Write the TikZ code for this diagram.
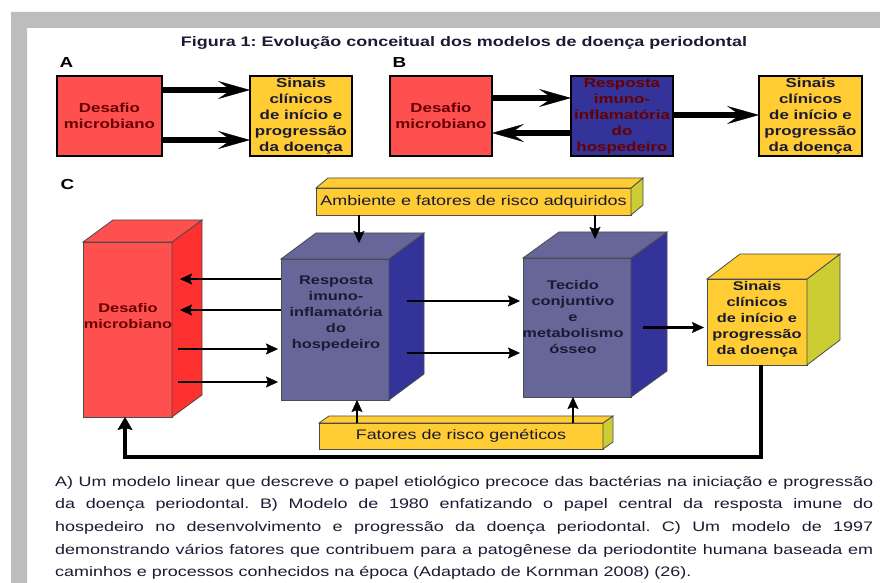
\documentclass[tikz,border=0pt]{standalone}
\usepackage{fontspec}
\setmainfont{Liberation Sans}[FakeStretch=1.3]
\usepackage{tikz}
\usetikzlibrary{arrows.meta}

\definecolor{vermelho}{HTML}{FF5050}
\definecolor{vermelhoesc}{HTML}{FF3030}
\definecolor{amarelo}{HTML}{FFCC33}
\definecolor{amareloesc}{HTML}{CCCC33}
\definecolor{azul}{HTML}{333399}
\definecolor{azulclaro}{HTML}{666699}
\definecolor{cinza}{HTML}{BDBDBD}
\definecolor{texto}{HTML}{1A1A33}
\definecolor{textovm}{HTML}{660000}
\frenchspacing

\tikzset{
  caixa/.style={draw=black, line width=2.5pt, minimum width=102pt, minimum height=80pt,
    inner sep=0pt, outer sep=0pt, align=center, font=\fontsize{13}{16}\selectfont\bfseries},
  frente/.style={draw=black!70, line width=0.8pt, inner sep=0pt, outer sep=0pt},
  txtcubo/.style={align=center, font=\fontsize{12.6}{16}\selectfont\bfseries, text=texto},
  rotulo/.style={anchor=base west, font=\fontsize{14.5}{16}\selectfont\bfseries},
  setagrossa/.style={line width=6pt, -{Stealth[length=32pt,width=18pt,inset=13pt,line width=0.4pt]}},
  seta/.style={line width=2.8pt, -{Stealth[length=12pt,width=11pt,inset=2pt,line width=0.4pt]}},
  setaretorno/.style={line width=4pt, -{Stealth[length=13pt,width=15pt,inset=2pt,line width=0.4pt]}},
}

% faces lateral e de cima de um cubo: nome, dx, dy, cor lateral, cor de cima
\newcommand{\faces}[5]{%
  \filldraw[fill=#4, draw=black!70, line width=0.8pt] (#1.south east) -- ([shift={(#2,#3)}]#1.south east)
    -- ([shift={(#2,#3)}]#1.north east) -- (#1.north east) -- cycle;
  \filldraw[fill=#5, draw=black!70, line width=0.8pt] (#1.north west) -- ([shift={(#2,#3)}]#1.north west)
    -- ([shift={(#2,#3)}]#1.north east) -- (#1.north east) -- cycle;
}

\begin{document}
\begin{tikzpicture}[x=1pt,y=1pt]
      \useasboundingbox (0,0) rectangle (880,583);
      \fill[cinza] (11,0) -- (11,571) -- (880,571) -- (880,555) -- (27,555) -- (27,0) -- cycle;
      \node[font=\fontsize{13.8}{16}\selectfont\bfseries, text=texto, anchor=base] (titulo) at (464,536)
        {Figura 1: Evolução conceitual dos modelos de doença periodontal};

      % A
      \node[rotulo] (rotA) at (56,515) {A};
      \node[caixa, fill=vermelho, minimum width=105pt, text=textovm] (desA) at (109.5,467) {Desafio\\microbiano};
      \node[caixa, fill=amarelo, text=texto] (sinA) at (301,467) {Sinais\\clínicos\\de início e\\progressão\\da doença};
      \draw[setagrossa] ([yshift=26]desA.east) -- ([yshift=26]sinA.west);
      \draw[setagrossa] ([yshift=-24]desA.east) -- ([yshift=-24]sinA.west);

      % B
      \node[rotulo] (rotB) at (389,515) {B};
      \node[caixa, fill=vermelho, text=textovm] (desB) at (441,467) {Desafio\\microbiano};
      \node[caixa, fill=azul, text=textovm] (hospB) at (622,467) {Resposta\\imuno-\\inflamatória\\do\\hospedeiro};
      \node[caixa, fill=amarelo, minimum width=103pt, text=texto] (sinB) at (810.5,467) {Sinais\\clínicos\\de início e\\progressão\\da doença};
      \draw[setagrossa] ([yshift=18]desB.east) -- ([yshift=18]hospB.west);
      \draw[setagrossa] ([yshift=-17]hospB.west) -- ([yshift=-17]desB.east);
      \draw[setagrossa] ([yshift=1]hospB.east) -- ([yshift=1]sinB.west);

      % C
      \node[rotulo] (rotC) at (57,393) {C};
      \node[frente, fill=amarelo, minimum width=315pt, minimum height=27pt, text=texto,
        font=\fontsize{13.8}{16}\selectfont] (amb) at (473.5,381.5) {Ambiente e fatores de risco adquiridos};
      \faces{amb}{12}{10}{amareloesc}{amarelo}
      \node[frente, fill=amarelo, minimum width=284pt, minimum height=26pt, text=texto,
        font=\fontsize{13.8}{16}\selectfont] (fat) at (461,147) {Fatores de risco genéticos};
      \faces{fat}{10}{7}{amareloesc}{amarelo}

      \node[frente, fill=vermelho, minimum width=89pt, minimum height=175pt] (desC) at (127.5,253.5) {};
      \faces{desC}{30}{22}{vermelhoesc}{vermelho}
      \node[txtcubo, text=textovm] (desCt) at (128,267) {Desafio\\microbiano};

      \node[frente, fill=azulclaro, minimum width=108pt, minimum height=141pt] (hosp) at (335,253.5) {};
      \faces{hosp}{35}{26}{azul}{azulclaro}
      \node[txtcubo] (hospt) at (336,269.5) {Resposta\\imuno-\\inflamatória\\do\\hospedeiro};

      \node[frente, fill=azulclaro, minimum width=108pt, minimum height=139pt] (tec) at (577,255.5) {};
      \faces{tec}{36}{26}{azul}{azulclaro}
      \node[txtcubo] (tect) at (573,265.5) {Tecido\\conjuntivo\\e\\metabolismo\\ósseo};

      \node[frente, fill=amarelo, minimum width=100pt, minimum height=86pt] (sinC) at (757,261) {};
      \faces{sinC}{33}{25}{amareloesc}{amarelo}
      \node[txtcubo] (sinCt) at (757,263.5) {Sinais\\clínicos\\de início e\\progressão\\da doença};

      \draw[seta] ([yshift=50.5]hosp.west) -- ([xshift=8,yshift=50.5]desC.east);
      \draw[seta] ([yshift=19.5]hosp.west) -- ([xshift=8,yshift=19.5]desC.east);
      \draw[seta] ([xshift=6,yshift=-19.5]desC.east) -- ([xshift=-3,yshift=-19.5]hosp.west);
      \draw[seta] ([xshift=6,yshift=-52.5]desC.east) -- ([xshift=-3,yshift=-52.5]hosp.west);
      \draw[seta] ([xshift=18,yshift=28.5]hosp.east) -- ([xshift=-3,yshift=26.5]tec.west);
      \draw[seta] ([xshift=18,yshift=-23.5]hosp.east) -- ([xshift=-3,yshift=-25.5]tec.west);
      \draw[seta] ([xshift=-114.5]amb.south) -- ([xshift=24,yshift=16]hosp.north);
      \draw[seta] ([xshift=121.5]amb.south) -- ([xshift=18,yshift=19]tec.north);
      \draw[seta] ([xshift=-104]fat.north) -- ([xshift=22]hosp.south);
      \draw[seta] ([xshift=112]fat.north) -- ([xshift=-4]tec.south);
      \draw[seta] ([xshift=12]tec.east) -- ([xshift=-3,yshift=-5.5]sinC.west);
      \coordinate (retorno) at (440,126);
      \draw[setaretorno] ([xshift=4]sinC.south) |- (retorno) -| ([xshift=-2.5]desC.south);

      \node[anchor=north west, text width=818pt, align=justify, inner sep=0pt, text=texto,
        font=\fontsize{13.8}{22.6}\selectfont] (legenda) at (55,107)
        {A) Um modelo linear que descreve o papel etiológico precoce das bactérias na iniciação e progressão\linebreak
        da doença periodontal. B) Modelo de 1980 enfatizando o papel central da resposta imune do\linebreak
        hospedeiro no desenvolvimento e progressão da doença periodontal. C) Um modelo de 1997\linebreak
        demonstrando vários fatores que contribuem para a patogênese da periodontite humana baseada em\linebreak
        caminhos e processos conhecidos na época (Adaptado de Kornman 2008) (26).};
\end{tikzpicture}
\end{document}
